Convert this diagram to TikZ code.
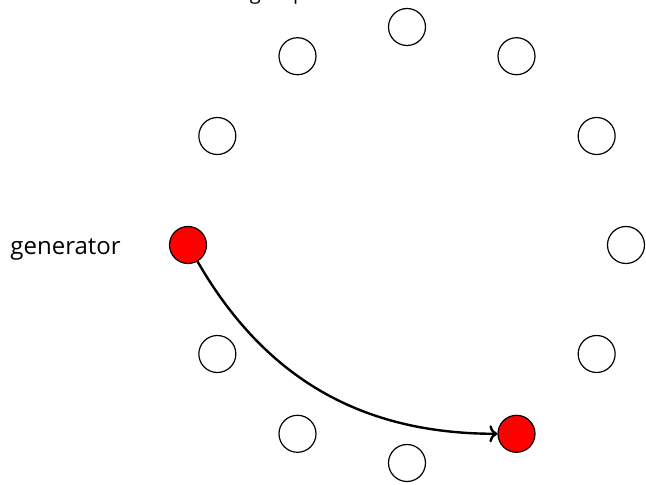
\documentclass[tikz,border=0pt]{standalone}
\usepackage{fontspec}
\setmainfont{Open Sans}
\usepackage{tikz}
\usetikzlibrary{positioning,arrows.meta}

\tikzset{
  spot/.style={circle,draw=black,line width=1.2pt,minimum size=37pt,inner sep=0pt},
  hop/.style={-{To[length=8pt,width=17pt]},line width=2.4pt},
  tag/.style={font=\fontsize{24}{28}\selectfont,inner sep=0pt},
  head/.style={font=\fontsize{20}{24}\selectfont,inner sep=0pt}
}

\begin{document}
\begin{tikzpicture}[x=1pt,y=1pt]
\useasboundingbox (0,0) rectangle (646,485);
%
\newcommand{\spot}[3]{
  \node[spot,fill=#3] (#1) at (#2:219 and 218) {};
}
%
\begin{scope}[shift={(407,240)}]
\spot{c0}{0}{white}
\spot{c1}{30}{white}
\spot{c2}{60}{white}
\spot{c3}{90}{white}
\spot{c4}{120}{white}
\spot{c5}{150}{white}
\spot{c6}{180}{red}
\spot{c7}{210}{white}
\spot{c8}{240}{white}
\spot{c9}{270}{white}
\spot{c10}{300}{red}
\spot{c11}{330}{white}
\end{scope}
%
\node[tag,left=48pt of c6,yshift=-4pt] (gen) {generator};
\node[head,anchor=base west] (note) at (46,485.5) {// the full rotation subgroup};
%
\draw[hop] (c6) to[out=-60,in=180] (c10);
%
\end{tikzpicture}
\end{document}
